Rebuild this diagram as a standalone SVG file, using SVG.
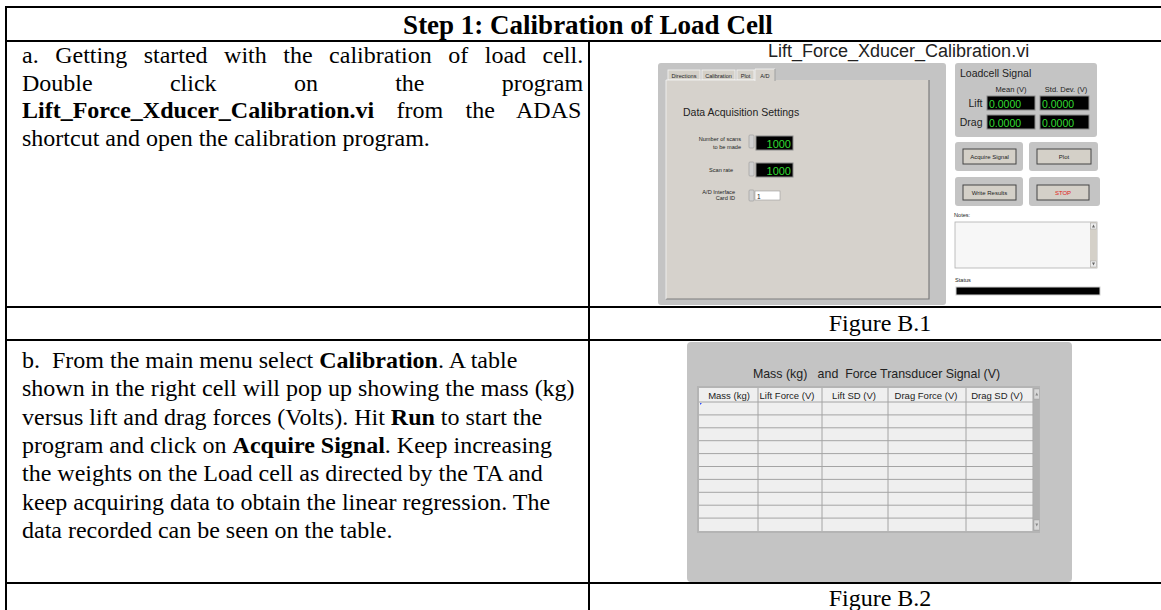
<svg xmlns="http://www.w3.org/2000/svg" width="1161" height="610" viewBox="0 0 1161 610">
<style>
.grid{stroke:#000;stroke-width:2;fill:none}
.tr{font-family:"Liberation Serif","Times New Roman",serif;font-size:24px;fill:#000}
.hd{font-family:"Liberation Serif","Times New Roman",serif;font-size:27px;font-weight:bold;fill:#000}
.b{font-weight:bold}
.ar{font-family:"Liberation Sans",Arial,sans-serif;fill:#222}
.pan{fill:#c4c4c4}
.dsp{fill:#000;stroke:#8a8a8a;stroke-width:1}
.grn{font-family:"Liberation Sans",Arial,sans-serif;fill:#33dd33}
.btn{fill:#d4d0c8;stroke:#444;stroke-width:1}
.tab{fill:#d4d0c8;stroke:#f4f4f4;stroke-width:0.8}
.spin{fill:#d0d0d0;stroke:#999;stroke-width:0.6}
.cell{stroke:#a4a4a4;stroke-width:1}
.sm{font-size:5.6px}
</style>

<g id="table-grid">
<line class="grid" x1="5" y1="7" x2="1161" y2="7"/>
<line class="grid" x1="5" y1="41" x2="1161" y2="41"/>
<line class="grid" x1="5" y1="307" x2="1161" y2="307"/>
<line class="grid" x1="5" y1="340" x2="1161" y2="340"/>
<line class="grid" x1="5" y1="583" x2="1161" y2="583"/>
<line class="grid" x1="6" y1="6" x2="6" y2="610"/>
<line class="grid" x1="589" y1="41" x2="589" y2="610"/>
</g>

<g id="header">
<text class="hd" x="588" y="34" text-anchor="middle">Step 1: Calibration of Load Cell</text>
</g>

<g id="step-a-text" class="tr">
<text x="22" y="63" word-spacing="10.5">a. Getting started with the calibration of load cell.</text>
<text x="22" y="90.6" word-spacing="71.3">Double click on the program</text>
<text x="22" y="118.2" word-spacing="16.4"><tspan class="b">Lift_Force_Xducer_Calibration.vi</tspan> from the ADAS</text>
<text x="22" y="145.8">shortcut and open the calibration program.</text>
</g>

<g id="figure-b1">
<text class="ar" x="768" y="56.5" font-size="18" fill="#111">Lift_Force_Xducer_Calibration.vi</text>
<rect class="pan" x="658" y="63" width="288" height="242" rx="3"/>
<rect class="tab" x="668" y="70" width="32" height="10"/>
<rect class="tab" x="702" y="70" width="33" height="10"/>
<rect class="tab" x="737" y="70" width="17" height="10"/>
<rect x="666" y="80" width="263" height="219" fill="#d6d2cc"/>
<path d="M666 299 H929 V80" fill="none" stroke="#7c7c7c" stroke-width="1.2"/>
<path d="M666 299 V80 H755" fill="none" stroke="#f6f6f6" stroke-width="0.8"/>
<rect x="755" y="69" width="20" height="12" fill="#d6d2cc"/>
<path d="M755 81 V69 H775 V81" fill="none" stroke="#f6f6f6" stroke-width="0.8"/>
<line x1="775" y1="69" x2="775" y2="81" stroke="#7c7c7c" stroke-width="0.8"/>
<g class="ar sm" text-anchor="middle">
<text x="684" y="77.5">Directions</text>
<text x="718.5" y="77.5">Calibration</text>
<text x="745.5" y="77.5">Plot</text>
<text x="765" y="77.5">A/D</text>
</g>
<text class="ar" x="683" y="115.5" font-size="10.5">Data Acquisition Settings</text>
<g class="ar sm" text-anchor="end">
<text x="741" y="141">Number of scans</text>
<text x="741" y="148.5">to be made</text>
<text x="733" y="172">Scan rate</text>
<text x="735" y="193.5">A/D Interface</text>
<text x="735" y="200">Card ID</text>
</g>
<rect class="spin" x="749" y="135" width="5" height="13" rx="1"/>
<rect class="spin" x="749" y="162" width="5" height="14" rx="1"/>
<rect class="spin" x="749" y="190" width="5" height="11" rx="1"/>
<rect class="dsp" x="756" y="136" width="37" height="14"/>
<rect class="dsp" x="756" y="163" width="37" height="14"/>
<text class="grn" x="791" y="147.5" font-size="11" text-anchor="end">1000</text>
<text class="grn" x="791" y="174.5" font-size="11" text-anchor="end">1000</text>
<rect x="755" y="191" width="25" height="9" fill="#fff" stroke="#999" stroke-width="0.6"/>
<text class="ar" x="757" y="198.5" font-size="6.5">1</text>
<rect class="pan" x="955" y="63" width="142" height="74" rx="3"/>
<text class="ar" x="960" y="77" font-size="10.5">Loadcell Signal</text>
<g class="ar" font-size="7.5" fill="#444" text-anchor="middle">
<text x="1011" y="92">Mean (V)</text>
<text x="1066" y="92">Std. Dev. (V)</text>
</g>
<g class="ar" font-size="10.5" text-anchor="end">
<text x="982.5" y="107">Lift</text>
<text x="982.5" y="126">Drag</text>
</g>
<rect class="dsp" x="987" y="96" width="48" height="14"/>
<rect class="dsp" x="1040" y="96" width="49" height="14"/>
<rect class="dsp" x="987" y="115" width="48" height="14"/>
<rect class="dsp" x="1040" y="115" width="49" height="14"/>
<g class="grn" font-size="10.5">
<text x="989" y="107.5">0.0000</text>
<text x="1042" y="107.5">0.0000</text>
<text x="989" y="126.5">0.0000</text>
<text x="1042" y="126.5">0.0000</text>
</g>
<rect class="pan" x="955" y="142" width="68" height="29" rx="3"/>
<rect class="pan" x="1029" y="142" width="69" height="29" rx="3"/>
<rect class="pan" x="955" y="177" width="68" height="29" rx="3"/>
<rect class="pan" x="1029" y="177" width="71" height="29" rx="3"/>
<rect class="btn" x="963" y="149" width="53" height="15"/>
<rect class="btn" x="1037" y="149" width="54" height="15"/>
<rect class="btn" x="963" y="185" width="53" height="15"/>
<rect class="btn" x="1037" y="185" width="52" height="15"/>
<g class="ar" font-size="6" text-anchor="middle">
<text x="989.5" y="158.5">Acquire Signal</text>
<text x="1064" y="158.5">Plot</text>
<text x="989.5" y="194.5">Write Results</text>
<text x="1063" y="194.5" fill="#e02020">STOP</text>
</g>
<text class="ar sm" x="954" y="217">Notes:</text>
<rect x="955" y="222" width="142" height="46" fill="#f7f7f7" stroke="#b0b0b0" stroke-width="0.8"/>
<rect x="1090" y="222" width="7" height="46" fill="#d4d0c8"/>
<rect x="1090.5" y="223" width="6" height="6" fill="#ececec" stroke="#999" stroke-width="0.4"/>
<rect x="1090.5" y="261" width="6" height="6" fill="#ececec" stroke="#999" stroke-width="0.4"/>
<path d="M1092 227.5 L1093.5 224.5 L1095 227.5 Z M1092 262.5 L1093.5 265.5 L1095 262.5 Z" fill="#666"/>
<text class="ar sm" x="955" y="282">Status</text>
<rect x="956" y="287" width="144" height="8" fill="#000" stroke="#d0d0d0" stroke-width="1"/>
</g>

<g id="caption-b1">
<text class="tr" x="880" y="331" text-anchor="middle">Figure B.1</text>
</g>

<g id="step-b-text" class="tr">
<text x="22" y="368" xml:space="preserve">b.  From the main menu select <tspan class="b">Calibration</tspan>. A table</text>
<text x="22" y="396.3">shown in the right cell will pop up showing the mass (kg)</text>
<text x="22" y="424.6">versus lift and drag forces (Volts). Hit <tspan class="b">Run</tspan> to start the</text>
<text x="22" y="452.9">program and click on <tspan class="b">Acquire Signal</tspan>. Keep increasing</text>
<text x="22" y="481.2">the weights on the Load cell as directed by the TA and</text>
<text x="22" y="509.5">keep acquiring data to obtain the linear regression. The</text>
<text x="22" y="537.8">data recorded can be seen on the table.</text>
</g>

<g id="figure-b2">
<rect class="pan" x="687" y="342" width="385" height="240" rx="4"/>
<text class="ar" x="876.5" y="377.5" font-size="12.4" fill="#333" text-anchor="middle" xml:space="preserve">Mass (kg)   and  Force Transducer Signal (V)</text>
<rect x="697" y="386" width="343" height="147" fill="#b4b4b4"/>
<rect x="699" y="388" width="334" height="143" fill="#efefef"/>
<g class="cell">
<line x1="699" y1="402" x2="1033" y2="402"/>
<line x1="699" y1="414.9" x2="1033" y2="414.9"/>
<line x1="699" y1="427.8" x2="1033" y2="427.8"/>
<line x1="699" y1="440.7" x2="1033" y2="440.7"/>
<line x1="699" y1="453.6" x2="1033" y2="453.6"/>
<line x1="699" y1="466.5" x2="1033" y2="466.5"/>
<line x1="699" y1="479.4" x2="1033" y2="479.4"/>
<line x1="699" y1="492.3" x2="1033" y2="492.3"/>
<line x1="699" y1="505.2" x2="1033" y2="505.2"/>
<line x1="699" y1="518.1" x2="1033" y2="518.1"/>
<line x1="758" y1="388" x2="758" y2="531"/>
<line x1="822" y1="388" x2="822" y2="531"/>
<line x1="888" y1="388" x2="888" y2="531"/>
<line x1="966" y1="388" x2="966" y2="531"/>
<line x1="1033" y1="388" x2="1033" y2="531"/>
</g>
<g class="ar" font-size="9.5" fill="#333" text-anchor="middle">
<text x="729" y="398.5">Mass (kg)</text>
<text x="787" y="398.5">Lift Force (V)</text>
<text x="854" y="398.5">Lift SD (V)</text>
<text x="926" y="398.5">Drag Force (V)</text>
<text x="997" y="398.5">Drag SD (V)</text>
</g>
<rect x="1033.5" y="388" width="6" height="143" fill="#b0b0b0"/>
<rect x="1034" y="389" width="5.5" height="10" fill="#d8d8d8" stroke="#999" stroke-width="0.4"/>
<rect x="1034" y="520" width="5.5" height="10" fill="#d8d8d8" stroke="#999" stroke-width="0.4"/>
<path d="M1035.3 395.5 L1036.75 392.5 L1038.2 395.5 Z M1035.3 523.5 L1036.75 526.5 L1038.2 523.5 Z" fill="#888"/>
<path d="M700 403 L702 403 L700 405 Z" fill="#3050ff"/>
</g>

<g id="caption-b2">
<text class="tr" x="880" y="606" text-anchor="middle">Figure B.2</text>
</g>
</svg>
